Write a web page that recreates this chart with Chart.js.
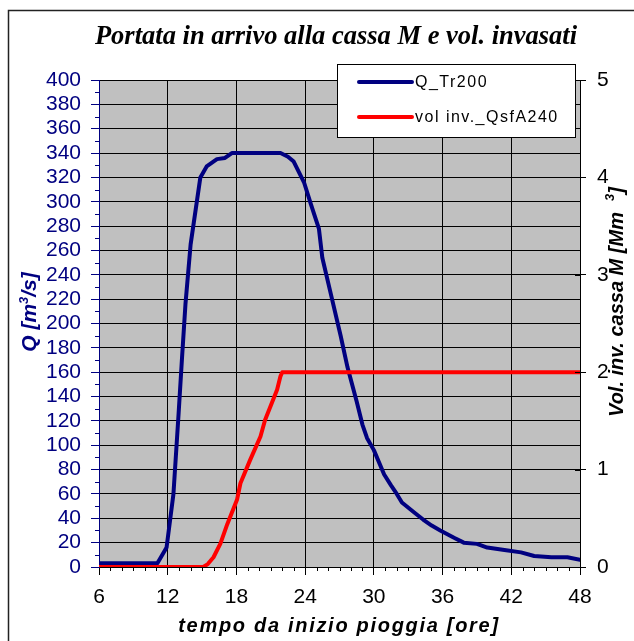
<!DOCTYPE html>
<html>
<head>
<meta charset="utf-8">
<script src="https://cdn.jsdelivr.net/npm/chart.js@4.4.1/dist/chart.umd.min.js"></script>
<style>
html,body{margin:0;padding:0;background:#fff;}
canvas{display:block;}
</style>
</head>
<body>
<canvas id="c" width="634" height="641"></canvas>
<script>
// ---- data ----
const titleText = "Portata in arrivo alla cassa M e vol. invasati";
const xTitle = "tempo da inizio pioggia [ore]";
const seriesNames = ["Q_Tr200", "vol inv._QsfA240"];

const timeQ = [6, 11.1, 11.9, 12.2, 12.5, 12.95, 13.25, 13.55, 14.0, 14.85, 15.4, 16.3, 17.0, 17.6, 21.85, 22.5, 23.0, 23.9, 24.5, 25.2, 25.5, 26.2, 27.1, 27.7, 28.5, 29.0, 29.4, 30.0, 30.9, 31.5, 32.0, 32.45, 33.5, 34.3, 35.05, 35.8, 37.0, 37.85, 39.0, 39.9, 41.4, 42.85, 44.0, 45.5, 46.9, 48];
const valQ  = [3, 3, 16, 38, 60, 126, 172, 216, 265, 320, 329, 335, 336, 340, 340, 337, 333, 316, 298, 278, 254, 226, 190, 164, 136, 117, 106, 96, 76, 67, 60, 53, 45, 39, 34, 30, 24, 20, 19, 16, 14, 12, 9, 8, 8, 6];

const timeV = [6, 15.1, 15.5, 16.0, 16.6, 17.2, 18.05, 18.35, 19.2, 20.1, 20.5, 21.55, 21.85, 22.0, 48];
const valV  = [0, 0, 0.03, 0.1, 0.24, 0.44, 0.69, 0.86, 1.1, 1.34, 1.51, 1.82, 1.96, 2.0, 2.0];

const xMin = 6, xMax = 48, xStep = 6;
const qMin = 0, qMax = 400, qStep = 20;
const vMin = 0, vMax = 5, vStep = 1;

// ---- styling ----
const NAVY = '#000080', RED = '#ff0000', GRAY = '#c0c0c0';

const ptsQ = timeQ.map((t, i) => ({x: t, y: valQ[i]}));
const ptsV = timeV.map((t, i) => ({x: t, y: valV[i]}));

function drawRotated(ctx, parts, cx, cy, color) {
  ctx.save();
  ctx.translate(cx, cy);
  ctx.rotate(-Math.PI / 2);
  ctx.fillStyle = color;
  ctx.textBaseline = 'middle';
  ctx.textAlign = 'left';
  let total = 0;
  parts.forEach(p => { ctx.font = p.font; total += ctx.measureText(p.text).width; });
  let x = -total / 2;
  parts.forEach(p => { ctx.font = p.font; ctx.fillText(p.text, x, p.dy || 0); x += ctx.measureText(p.text).width; });
  ctx.restore();
}

const decor = {
  id: 'decor',
  beforeDraw(chart) {
    const {ctx, chartArea: a} = chart;
    ctx.save();
    ctx.fillStyle = '#fff';
    ctx.fillRect(0, 0, chart.width, chart.height);
    ctx.fillStyle = GRAY;
    ctx.fillRect(a.left, a.top, a.right - a.left, a.bottom - a.top);
    ctx.strokeStyle = '#222';
    ctx.lineWidth = 1.5;
    ctx.beginPath();
    ctx.moveTo(8.5, chart.height + 2);
    ctx.lineTo(8.5, 10.5);
    ctx.lineTo(chart.width + 2, 10.5);
    ctx.stroke();
    ctx.restore();
  },
  afterDraw(chart) {
    const {ctx, chartArea: a, scales} = chart;
    const xs = scales.x, ys = scales.y, y2 = scales.y2;
    ctx.save();
    ctx.strokeStyle = '#000';
    ctx.lineWidth = 1;
    ctx.beginPath();
    for (let t = xMin; t <= xMax; t++) {
      if ((t - xMin) % xStep === 0) continue;
      const px = Math.round(xs.getPixelForValue(t)) + 0.5;
      ctx.moveTo(px, a.bottom);
      ctx.lineTo(px, a.bottom + 4);
    }
    ctx.stroke();
    ctx.strokeStyle = NAVY;
    ctx.beginPath();
    for (let q = qMin + qStep / 2; q < qMax; q += qStep) {
      const py = Math.round(ys.getPixelForValue(q)) + 0.5;
      ctx.moveTo(a.left - 4, py);
      ctx.lineTo(a.left, py);
    }
    ctx.stroke();
    ctx.strokeStyle = '#000';
    ctx.beginPath();
    for (let v = vMin; v <= vMax; v += vStep) {
      const py = Math.round(y2.getPixelForValue(v)) + 0.5;
      ctx.moveTo(a.right - 5, py);
      ctx.lineTo(a.right, py);
    }
    ctx.stroke();

    // chart title
    ctx.fillStyle = '#000';
    ctx.font = 'bold italic 26.5px "Liberation Serif", "Times New Roman", serif';
    ctx.textAlign = 'center';
    ctx.textBaseline = 'alphabetic';
    ctx.fillText(titleText, 336, 44);

    // x title
    ctx.font = 'bold italic 20px "Liberation Sans", Arial, sans-serif';
    ctx.letterSpacing = '1.7px';
    ctx.fillText(xTitle, 339, 632);
    ctx.letterSpacing = '0px';

    // left title  Q [m3/s]
    const fL = 'bold italic 21px "Liberation Sans", Arial, sans-serif';
    const fLs = 'bold italic 13px "Liberation Sans", Arial, sans-serif';
    drawRotated(ctx, [
      {text: 'Q [m', font: fL},
      {text: '3', font: fLs, dy: -6},
      {text: '/s]', font: fL}
    ], 30, 312, NAVY);

    // right title
    const fR = 'bold italic 20px "Liberation Sans", Arial, sans-serif';
    const fRs = 'bold italic 13px "Liberation Sans", Arial, sans-serif';
    drawRotated(ctx, [
      {text: 'Vol. inv. cassa M [Mm  ', font: fR},
      {text: '3', font: fRs, dy: -7},
      {text: ']', font: fR}
    ], 617, 302, '#000');

    // legend box
    const lx = 337, ly = 64, lw = 238, lh = 73;
    ctx.fillStyle = '#fff';
    ctx.fillRect(lx, ly, lw, lh);
    ctx.strokeStyle = '#000';
    ctx.lineWidth = 1;
    ctx.strokeRect(lx + 0.5, ly + 0.5, lw, lh);
    const entries = [
      {name: seriesNames[0], color: NAVY, y: 82},
      {name: seriesNames[1], color: RED, y: 117}
    ];
    ctx.font = '16px "Liberation Sans", Arial, sans-serif';
    ctx.letterSpacing = '1.5px';
    ctx.textAlign = 'left';
    ctx.textBaseline = 'middle';
    entries.forEach(e => {
      ctx.strokeStyle = e.color;
      ctx.lineWidth = 4;
      ctx.lineCap = 'round';
      ctx.beginPath();
      ctx.moveTo(359, e.y);
      ctx.lineTo(412, e.y);
      ctx.stroke();
      ctx.fillStyle = '#000';
      ctx.fillText(e.name, 415, e.y + 1);
    });
    ctx.letterSpacing = '0px';
    ctx.restore();
  }
};

const tickFont = {family: '"Liberation Sans", Arial, sans-serif', size: 21};

new Chart(document.getElementById('c'), {
  type: 'line',
  data: {
    datasets: [
      {label: seriesNames[0], data: ptsQ, yAxisID: 'y', borderColor: NAVY, borderWidth: 4,
       pointRadius: 0, tension: 0, order: 1, borderJoinStyle: 'round', borderCapStyle: 'round'},
      {label: seriesNames[1], data: ptsV, yAxisID: 'y2', borderColor: RED, borderWidth: 4,
       pointRadius: 0, tension: 0, order: 0, borderJoinStyle: 'round', borderCapStyle: 'butt'}
    ]
  },
  options: {
    responsive: false,
    animation: false,
    events: [],
    layout: {padding: {top: 80, left: 0, right: 0, bottom: 0}},
    plugins: {legend: {display: false}, title: {display: false}, tooltip: {enabled: false}},
    scales: {
      x: {
        type: 'linear', min: xMin, max: xMax,
        afterFit(s) { s.height = 74; },
        ticks: {stepSize: xStep, autoSkip: false, color: '#000', font: tickFont, padding: 10, maxRotation: 0},
        grid: {color: '#000', lineWidth: 1, tickLength: 8, tickColor: '#000'},
        border: {color: '#000', width: 1}
      },
      y: {
        position: 'left', min: qMin, max: qMax,
        afterFit(s) { s.width = 99; },
        ticks: {stepSize: qStep, autoSkip: false, color: NAVY, font: tickFont, padding: 10},
        grid: {color: '#000', lineWidth: 1, tickLength: 8, tickColor: NAVY},
        border: {color: NAVY, width: 1}
      },
      y2: {
        position: 'right', min: vMin, max: vMax,
        afterFit(s) { s.width = 54; },
        ticks: {stepSize: vStep, autoSkip: false, color: '#000', font: tickFont, padding: 11},
        grid: {drawOnChartArea: false, tickLength: 6, tickColor: '#000'},
        border: {color: '#000', width: 1}
      }
    }
  },
  plugins: [decor]
});
</script>
</body>
</html>
